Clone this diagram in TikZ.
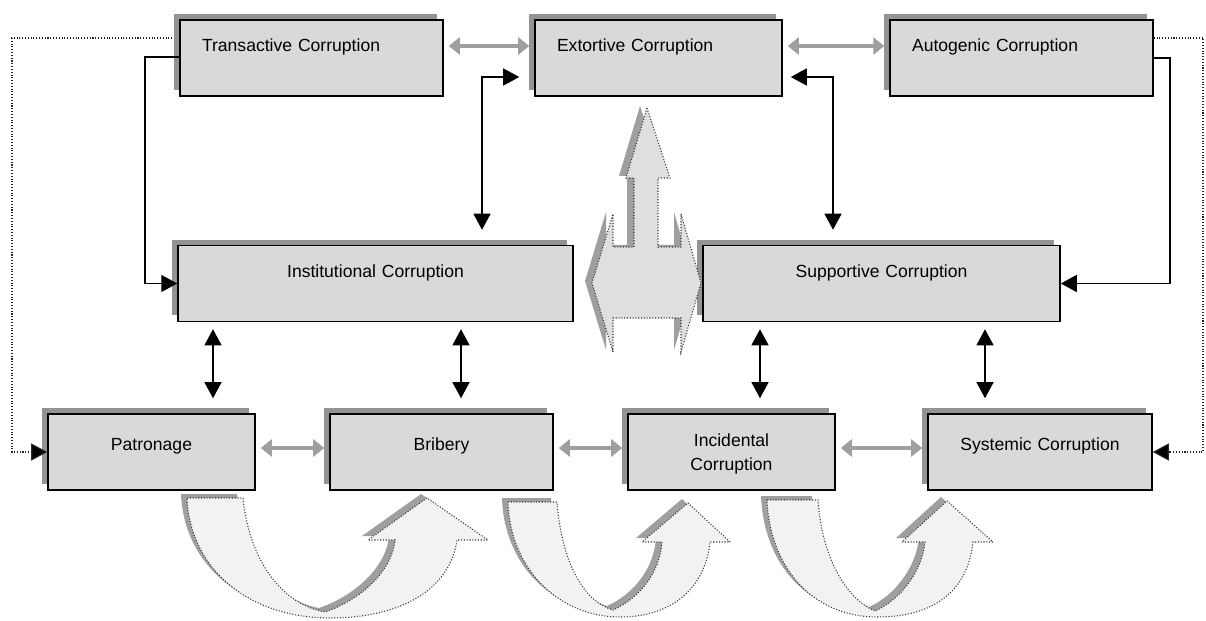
\documentclass[tikz,border=0pt]{standalone}
\usepackage{fontspec}
\setmainfont{Liberation Sans}
\usetikzlibrary{arrows.meta,shadows,calc}

\tikzset{
  corrbox/.style = {draw, line width=0.9pt, fill=gray!30, inner xsep=0pt, inner ysep=0pt,
    text height=0.64cm, text depth=0.88cm, align=center,
    general shadow={fill=gray!85, shadow xshift=-0.12cm, shadow yshift=0.12cm}},
  topbox/.style = {corrbox, inner xsep=0.44cm, align=left},
  lowbox/.style = {corrbox, text height=0.72cm, text depth=0.8cm},
  blk/.style = {line width=0.7pt, -{Triangle[length=3.2mm,width=3.4mm]}},
  dblk/.style = {blk, {Triangle[length=3.2mm,width=3.4mm]}-{Triangle[length=3.2mm,width=3.4mm]}},
  gry/.style = {draw=gray!75, line width=2.6pt, shorten >=0.1cm, shorten <=0.1cm,
    {Triangle[length=2.2mm,width=3.4mm]}-{Triangle[length=2.2mm,width=3.4mm]}},
  dots/.style = {densely dotted, line width=0.6pt, draw=black!85, -{Triangle[length=3.2mm,width=3.4mm,fill=black]}},
  bigarrow/.style = {fill=gray!25, draw=black!80, densely dotted, line width=0.6pt,
    general shadow={fill=gray!75, shadow xshift=-0.14cm, shadow yshift=0.04cm}},
  uturn/.style = {fill=gray!10, draw=black!80, densely dotted, line width=0.6pt,
    general shadow={fill=gray!75, shadow xshift=-0.12cm, shadow yshift=0.08cm}}
}

\begin{document}
\begin{tikzpicture}[x=0.02cm, y=-0.02cm]
\useasboundingbox (0,0) rectangle (1206,621);

% top row
\node[topbox, text width=4.38cm] (trans)  at (311.5,58) {Transactive Corruption};
\node[topbox, text width=4.06cm] (extort) at (658.5,58) {Extortive Corruption};
\node[topbox, text width=4.38cm] (autog)  at (1021.5,58) {Autogenic Corruption};
% middle row
\node[corrbox, text width=7.9cm]  (inst) at (375.5,283.5) {Institutional Corruption};
\node[corrbox, text width=7.14cm] (supp) at (881.5,283.5) {Supportive Corruption};
% bottom row
\node[lowbox, text width=4.14cm]  (patr)  at (151.5,452) {Patronage};
\node[lowbox, text width=4.46cm]  (brib)  at (441.5,452) {Bribery};
\node[corrbox, text width=4.14cm] (incid) at (731.5,452) {Incidental\\[2.2pt]Corruption};
\node[lowbox, text width=4.48cm]  (syst)  at (1040,452) {Systemic Corruption};

% grey links
\draw[gry] (trans.east |- 0,46) -- (extort.west |- 0,46);
\draw[gry] (extort.east |- 0,46) -- (autog.west |- 0,46);
\draw[gry] (patr.east |- 0,448) -- (brib.west |- 0,448);
\draw[gry] (brib.east |- 0,448) -- (incid.west |- 0,448);
\draw[gry] (incid.east |- 0,448) -- (syst.west |- 0,448);

% black links
\draw[blk] (trans.west |- 0,57) -- (145,57) |- (inst.west);
\draw[blk] (autog.east |- 0,58) -- (1170,58) |- (supp.east);
\draw[dblk, shorten <=0.3cm, shorten >=0.3cm] (inst.north -| 482,0) |- (extort.west |- 0,77);
\draw[dblk, shorten <=0.3cm, shorten >=0.16cm] (supp.north -| 833,0) |- (extort.east |- 0,77);
\draw[dblk, shorten <=0.14cm, shorten >=0.3cm] (inst.south -| 213,0) -- (patr.north -| 213,0);
\draw[dblk, shorten <=0.14cm, shorten >=0.3cm] (inst.south -| 461,0) -- (brib.north -| 461,0);
\draw[dblk, shorten <=0.14cm, shorten >=0.3cm] (supp.south -| 760,0) -- (incid.north -| 760,0);
\draw[dblk, shorten <=0.14cm, shorten >=0.3cm] (supp.south -| 985,0) -- (syst.north -| 985,0);

% dotted feedback
\draw[dots] ($(trans.west |- 0,38)+(-7,0)$) -- (12,38) |- (patr.west);
\draw[dots] (autog.east |- 0,38) -- (1203,38) |- (syst.east);

% centre arrow
\path[bigarrow] (647,108) -- (670,178) -- (658,178) -- (658,247) -- (681,247) -- (681,214)
  -- (701,283) -- (681,352) -- (681,318) -- (613,318) -- (613,352) -- (592,283)
  -- (613,214) -- (613,247) -- (634,247) -- (634,178) -- (626,178) -- cycle;

% turn arrows
\path[uturn] (187,498) -- (243,498) .. controls (250,565) and (285,605) .. (325,612)
  .. controls (360,600) and (392,572) .. (395,540) -- (368,540) -- (427,498) -- (488,540)
  -- (457,540) .. controls (450,590) and (400,618) .. (330,618)
  .. controls (250,618) and (190,570) .. (187,498) -- cycle;
\path[uturn] (508,502) -- (557,502) .. controls (562,565) and (585,602) .. (613,610)
  .. controls (640,598) and (660,572) .. (662,542) -- (642,542) -- (688,503) -- (730,542)
  -- (710,542) .. controls (705,590) and (670,617) .. (620,617)
  .. controls (560,617) and (510,570) .. (508,502) -- cycle;
\path[uturn] (767,500) -- (818,500) .. controls (822,560) and (848,600) .. (875,611)
  .. controls (900,600) and (922,572) .. (925,542) -- (902,542) -- (947,501) -- (993,542)
  -- (973,542) .. controls (968,590) and (935,617) .. (877,617)
  .. controls (815,617) and (770,570) .. (767,500) -- cycle;
\end{tikzpicture}
\end{document}
